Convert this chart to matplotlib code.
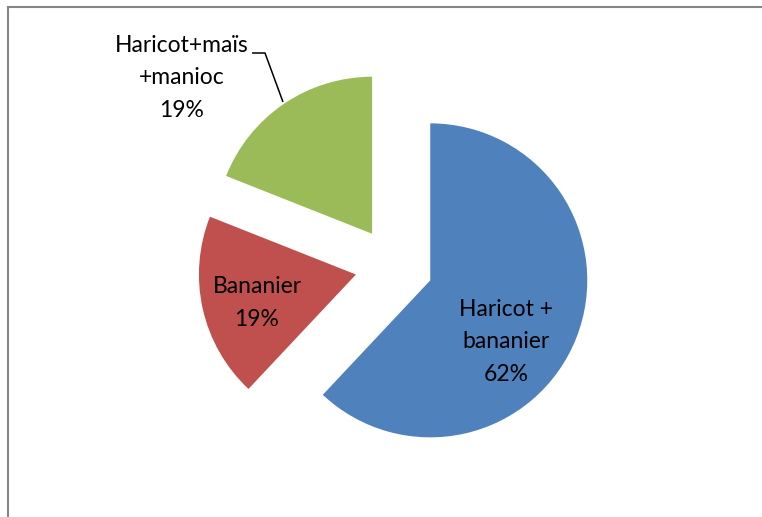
import matplotlib
matplotlib.use("Agg")
import matplotlib.pyplot as plt
from matplotlib.patches import Rectangle

# Crop systems and their shares (%)
categories = ["Haricot +\nbananier", "Bananier", "Haricot+maïs\n+manioc"]
shares = [62, 19, 19]
colors = ["#4F81BD", "#C0504D", "#9BBB59"]

W, H = 762, 517
fig = plt.figure(figsize=(W / 100, H / 100), dpi=100)
ax = fig.add_axes([0, 0, 1, 1])

radius = 157
center = (394, H - 266)
explode = [39] * len(shares)  # offset in data units (pixels here)

wedges, _ = ax.pie(shares, colors=colors, startangle=90, counterclock=False,
                   explode=explode, radius=radius, center=center,
                   wedgeprops=dict(linewidth=0))

ax.set_xlim(0, W)
ax.set_ylim(0, H)
ax.set_aspect("equal")
ax.axis("off")

font = dict(family=["Lato", "DejaVu Sans"], fontsize=16.5, color="black",
            ha="center", va="center", linespacing=1.65)

label_pos = [(506, H - 342), (257, H - 303), (182, H - 78)]
for cat, val, (x, y) in zip(categories, shares, label_pos):
    ax.text(x, y, f"{cat}\n{val}%", **font)

# leader line for the small green slice label
ax.plot([252, 265, 283], [H - 53, H - 53, H - 102], color="black", lw=1.1,
        solid_capstyle="butt")

# chart area border (runs past the right and bottom edges)
fig.patches.append(Rectangle((7.5 / W, -0.1), 1.2, 1.1 - 6.5 / H,
                             transform=fig.transFigure, fill=False,
                             edgecolor="#868686", linewidth=1.5))

fig.savefig("out.png", dpi=100)
